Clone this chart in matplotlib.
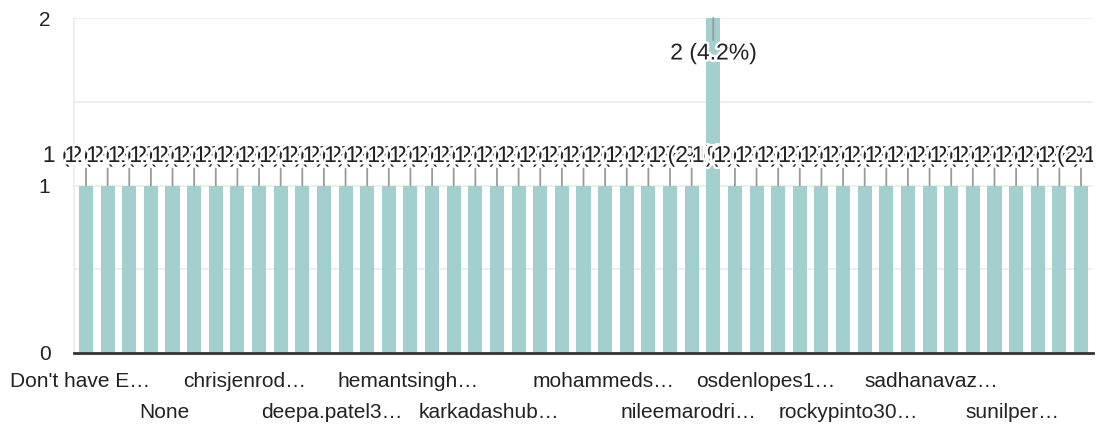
import matplotlib.pyplot as plt
import matplotlib.patheffects as pe
from matplotlib.transforms import Bbox, TransformedBbox

plt.rcParams['font.family'] = ['Liberation Sans', 'DejaVu Sans']

# response counts per answer (47 answers, sorted as in the form summary)
counts = [1, 1, 1, 1, 1, 1, 1, 1, 1, 1,
          1, 1, 1, 1, 1, 1, 1, 1, 1, 1,
          1, 1, 1, 1, 1, 1, 1, 1, 1, 2,
          1, 1, 1, 1, 1, 1, 1, 1, 1, 1,
          1, 1, 1, 1, 1, 1, 1]
total = 48
# truncated category names printed under the axis (two rows)
tick_labels = ["Don't have E…", "None", "chrisjenrod…", "deepa.patel3…",
               "hemantsingh…", "karkadashub…", "mohammeds…", "nileemarodri…",
               "osdenlopes1…", "rockypinto30…", "sadhanavaz…", "sunilper…"]
# where those names sit, in bar units (they are not one per bar)
tick_pos = [-0.28, 3.61, 7.35, 11.37, 14.88, 18.63, 23.95, 27.85,
            31.44, 35.23, 39.07, 42.81]

bar_color = '#a4cfcf'
text_color = '#222222'
fs = 15
fs_ann = 16.5

fig = plt.figure(figsize=(11.01, 4.26), dpi=100)
ax = fig.add_axes([74 / 1101, 1 - 353 / 426, (1093 - 74) / 1101, (353 - 18) / 426])

x = list(range(len(counts)))
ax.bar(x, counts, width=0.65, color=bar_color, zorder=2)
ax.set_xlim(-0.555, len(counts) - 1 + 0.555)
ax.set_ylim(0, 2)

ax.set_yticks([0, 0.5, 1, 1.5, 2])
ax.set_yticklabels(['0', '', '1', '', '2'])
ax.yaxis.grid(True, color='#ebebeb', linewidth=1.2, zorder=0)
ax.tick_params(axis='y', length=0, pad=17, labelsize=fs, labelcolor=text_color)

ax.set_xticks(tick_pos)
ax.set_xticklabels(tick_labels)
ax.tick_params(axis='x', length=0, labelsize=fs, labelcolor=text_color)
for k, t in enumerate(ax.xaxis.get_major_ticks()):
    t.set_pad(14 if k % 2 == 0 else 36)

for s in ['top', 'right']:
    ax.spines[s].set_visible(False)
ax.spines['left'].set_color('#ebebeb')
ax.spines['left'].set_linewidth(1.2)
ax.spines['bottom'].set_color('#333333')
ax.spines['bottom'].set_linewidth(2)
ax.spines['bottom'].set_zorder(3)

clip = TransformedBbox(Bbox([[0, 0], [1093 / 1101, 1]]), fig.transFigure)
ymax = max(counts)
for i, v in enumerate(counts):
    label = f"{v} ({v / total * 100:.1f}%)"
    if v < ymax:
        stem, off = 17, 30
    else:
        stem, off = -22, -35
    ax.annotate("", xy=(i, v), xytext=(0, stem), textcoords='offset pixels',
                arrowprops=dict(arrowstyle='-', color='#9a9a9a', lw=1.3,
                                shrinkA=0, shrinkB=0), zorder=4)
    t = ax.annotate(label, xy=(i, v), xytext=(0, off), textcoords='offset pixels',
                    ha='center', va='center', fontsize=fs_ann, color=text_color,
                    annotation_clip=False, zorder=5,
                    path_effects=[pe.withStroke(linewidth=3.5, foreground='white')])
    t.set_clip_on(True)
    t.set_clip_box(clip)

fig.savefig('out.png', dpi=100)
